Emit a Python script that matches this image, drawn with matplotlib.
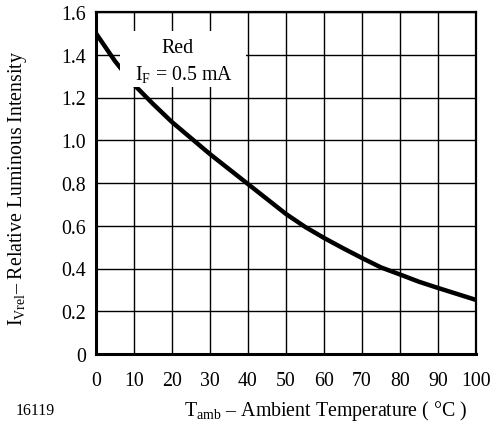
import matplotlib.pyplot as plt
from matplotlib.patches import Rectangle

plt.rcParams['font.family'] = ['Liberation Serif', 'DejaVu Serif']
plt.rcParams['mathtext.fontset'] = 'custom'
plt.rcParams['mathtext.rm'] = 'Liberation Serif'

# ambient temperature (°C) vs relative luminous intensity
temp = [0, 5, 10, 15, 20, 25, 30, 35, 40, 45, 50, 55, 60, 65, 70, 75, 80, 85, 90, 95, 100]
i_rel = [1.50, 1.37, 1.26, 1.17, 1.085, 1.01, 0.935, 0.865, 0.795, 0.725, 0.655, 0.595, 0.543, 0.495, 0.449, 0.405, 0.372, 0.338, 0.309, 0.281, 0.253]

x_ticks = [0, 10, 20, 30, 40, 50, 60, 70, 80, 90, 100]
y_ticks = [0, 0.2, 0.4, 0.6, 0.8, 1.0, 1.2, 1.4, 1.6]
y_labels = ['0', '0.2', '0.4', '0.6', '0.8', '1.0', '1.2', '1.4', '1.6']

fs = 14.3

fig = plt.figure(figsize=(4.95, 4.27), dpi=100)
ax = fig.add_axes([96 / 495, 1 - 355 / 427, 380 / 495, 342 / 427])

ax.plot(temp, i_rel, color='black', lw=3.2, solid_capstyle='butt', zorder=3)
ax.set_xlim(0, 100)
ax.set_ylim(0, 1.6)
ax.set_xticks(x_ticks)
ax.set_yticks(y_ticks)
ax.set_yticklabels(y_labels)
ax.grid(True, color='black', lw=1.0)
ax.set_axisbelow(True)
ax.tick_params(length=0, labelsize=fs, pad=7)
ax.tick_params(axis='x', pad=12)
for side in ['left', 'bottom']:
    ax.spines[side].set_linewidth(2.2)
for side in ['right', 'top']:
    ax.spines[side].set_linewidth(1.6)

# label box covering part of the grid
ax.add_patch(Rectangle((6.3, 1.25), 33.2, 0.26, facecolor='white', edgecolor='none', zorder=4))
ax.text(21.5, 1.432, 'Red', ha='center', va='center', fontsize=fs, zorder=5)
ax.text(23, 1.31, r'I$_\mathrm{F}$ = 0.5 mA', ha='center', va='center', fontsize=fs, zorder=5)

fig.text(18 / 495, 1 - 188 / 427, r'I$_\mathrm{Vrel}$– Relative Luminous Intensity',
         rotation=90, ha='center', va='center', fontsize=fs)
fig.text(326 / 495, 1 - 411 / 427, r'T$_\mathrm{amb}$ – Ambient Temperature ( °C )',
         ha='center', va='center', fontsize=fs)
fig.text(35 / 495, 1 - 411 / 427, '16119', ha='center', va='center', fontsize=11.5)

fig.savefig('out.png', dpi=100)
